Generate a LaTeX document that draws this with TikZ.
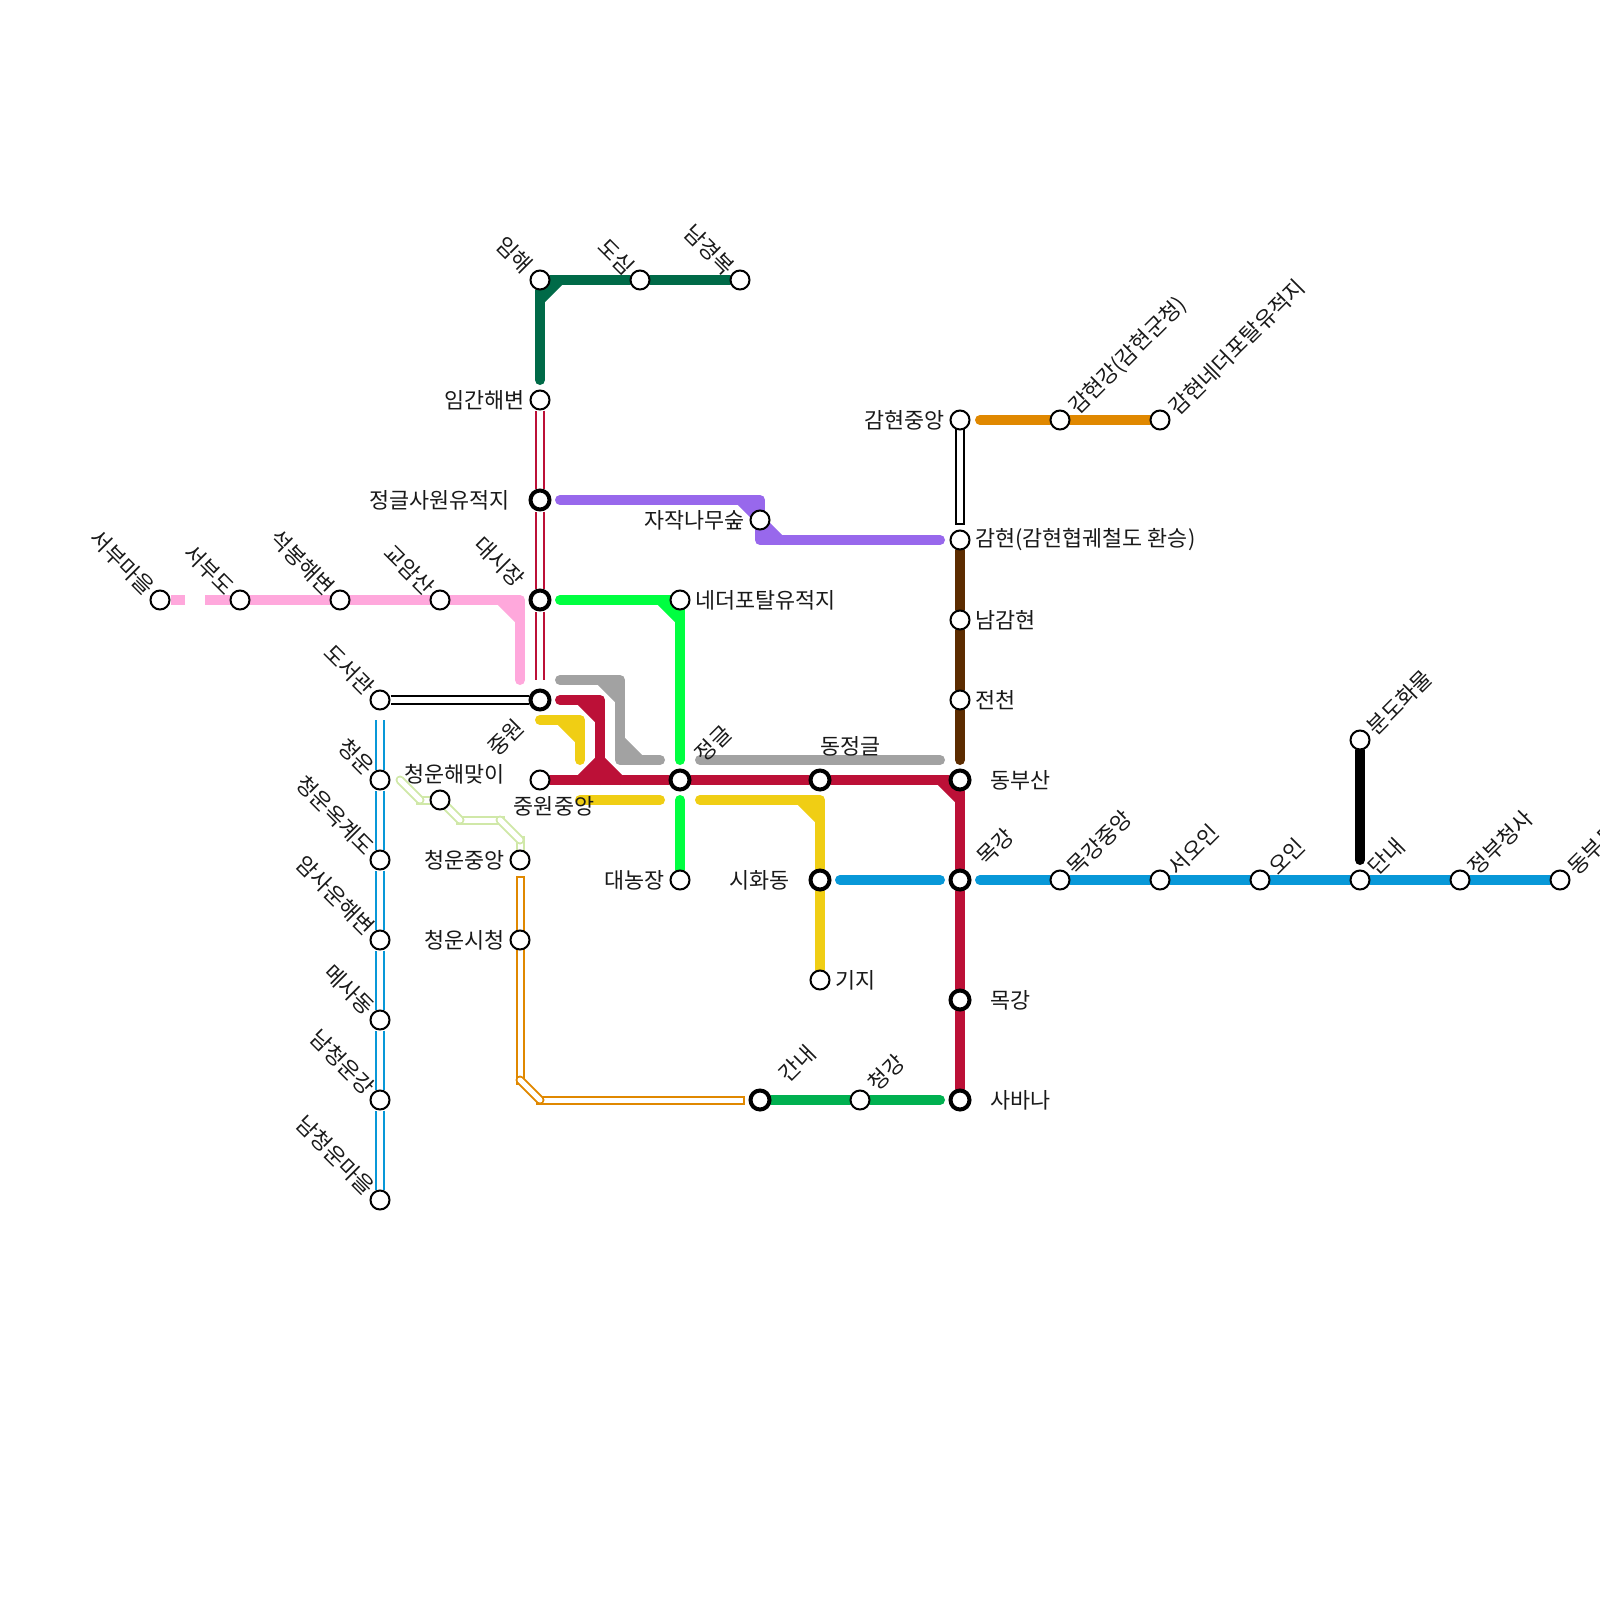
\documentclass[tikz,border=0pt]{standalone}
\usepackage{fontspec}
\setmainfont{Noto Sans CJK KR}
\usetikzlibrary{backgrounds}
\definecolor{forest}{HTML}{006A48}
\definecolor{crimson}{HTML}{BC1037}
\definecolor{violet}{HTML}{9868EC}
\definecolor{lime}{HTML}{00FF40}
\definecolor{pink}{HTML}{FFA8DC}
\definecolor{grayline}{HTML}{A2A2A2}
\definecolor{yellowline}{HTML}{F0CE14}
\definecolor{sky}{HTML}{0898D8}
\definecolor{brown}{HTML}{5C2C00}
\definecolor{amber}{HTML}{E08800}
\definecolor{meadow}{HTML}{00B050}
\definecolor{pale}{HTML}{D0E8A8}
\tikzset{
st/.style={circle,draw=black,fill=white,line width=2pt,minimum size=19pt,inner sep=0pt},
bigst/.style={circle,draw=black,fill=white,line width=4pt,minimum size=19pt,inner sep=0pt},
lb/.style={font=\fontsize{21.8}{26}\selectfont,inner sep=0pt,text=black!90},
up/.style={lb,rotate=45,anchor=west},
dn/.style={lb,rotate=-45,anchor=east},
rail/.style={line width=10pt,line cap=round,line join=round},
twin/.style={double=white,double distance=6pt,line width=2pt},
shellin/.style={line width=5pt,white},
shell/.style={line width=9pt},
}
\begin{document}
\begin{tikzpicture}[x=20pt,y=-20pt]
\useasboundingbox (0,0) rectangle (80,80);
\node[st](a1) at (27,14){};
\node[st](a2) at (32,14){};
\node[st](a3) at (37,14){};
\node[st](b1) at (27,20){};
\node[bigst](b2) at (27,25){};
\node[bigst](b3) at (27,30){};
\node[bigst](b4) at (27,35){};
\node[st](b5) at (27,39){};
\node[st](c1) at (8,30){};
\node[st](c2) at (12,30){};
\node[st](c3) at (17,30){};
\node[st](c4) at (22,30){};
\node[st](d1) at (19,35){};
\node[st](d2) at (19,39){};
\node[st](d3) at (19,43){};
\node[st](d4) at (19,47){};
\node[st](d5) at (19,51){};
\node[st](d6) at (19,55){};
\node[st](d7) at (19,60){};
\node[st](e1) at (22,40){};
\node[st](e2) at (26,43){};
\node[st](e3) at (26,47){};
\node[st](f1) at (38,26){};
\node[st](f2) at (34,30){};
\node[bigst](f3) at (34,39){};
\node[st](f4) at (34,44){};
\node[bigst](g1) at (41,39){};
\node[bigst](g2) at (41,44){};
\node[st](g3) at (41,49){};
\node[st](h1) at (48,21){};
\node[st](h2) at (48,27){};
\node[st](h3) at (48,31){};
\node[st](h4) at (48,35){};
\node[bigst](h5) at (48,39){};
\node[bigst](h6) at (48,44){};
\node[bigst](h7) at (48,50){};
\node[bigst](h8) at (48,55){};
\node[bigst](i1) at (38,55){};
\node[st](i2) at (43,55){};
\node[st](j1) at (53,21){};
\node[st](j2) at (58,21){};
\node[st](k1) at (53,44){};
\node[st](k2) at (58,44){};
\node[st](k3) at (63,44){};
\node[st](k4) at (68,44){};
\node[st](k5) at (73,44){};
\node[st](k6) at (78,44){};
\node[st](m1) at (68,37){};
\node[dn](ta1) at (26.45,13.45){임해};
\node[dn](ta2) at (31.55,13.55){도심};
\node[dn](ta3) at (36.55,13.55){남경복};
\node[lb,anchor=east](tb1) at (26.25,20){임간해변};
\node[lb,anchor=east](tb2) at (25.5,25){정글사원유적지};
\node[dn](tb3) at (26.05,29.15){대시장};
\node[lb,rotate=45,anchor=east](tb4) at (26,36.15){중원};
\node[lb,anchor=north](tb5) at (27.7,39.8){중원중앙};
\node[dn](tc1) at (7.55,29.55){서부마을};
\node[dn](tc2) at (11.55,29.55){서부도};
\node[dn](tc3) at (16.55,29.55){석봉해변};
\node[dn](tc4) at (21.55,29.55){교암산};
\node[dn](td1) at (18.55,34.55){도서관};
\node[dn](td2) at (18.55,38.55){청운};
\node[dn](td3) at (18.55,42.55){청운옥계도};
\node[dn](td4) at (18.55,46.55){암사운해변};
\node[dn](td5) at (18.55,50.55){메사동};
\node[dn](td6) at (18.55,54.55){남청운강};
\node[dn](td7) at (18.55,59.55){남청운마을};
\node[lb,anchor=east](te1) at (25.25,38.7){청운해맞이};
\node[lb,anchor=east](te2) at (25.25,43){청운중앙};
\node[lb,anchor=east](te3) at (25.25,47){청운시청};
\node[lb,anchor=east](tf1) at (37.25,26){자작나무숲};
\node[lb,anchor=west](tf2) at (34.75,30){네더포탈유적지};
\node[up](tf3) at (34.95,37.9){정글};
\node[lb,anchor=east](tf4) at (33.25,44){대농장};
\node[lb,anchor=west](tg1) at (41,37.3){동정글};
\node[lb,anchor=east](tg2) at (39.5,44){시화동};
\node[lb,anchor=west](tg3) at (41.75,49){기지};
\node[lb,anchor=east](th1) at (47.25,21){감현중앙};
\node[lb,anchor=west](th2) at (48.75,27){감현(감현협궤철도 환승)};
\node[lb,anchor=west](th3) at (48.75,31){남감현};
\node[lb,anchor=west](th4) at (48.75,35){전천};
\node[lb,anchor=west](th5) at (49.5,39){동부산};
\node[up](th6) at (49.05,43.05){목강};
\node[lb,anchor=west](th7) at (49.5,50){목강};
\node[lb,anchor=west](th8) at (49.5,55){사바나};
\node[up](ti1) at (39.15,53.9){간내};
\node[up](ti2) at (43.6,54.35){청강};
\node[up](tj1) at (53.65,20.55){감현강(감현군청)};
\node[up](tj2) at (58.65,20.55){감현네더포탈유적지};
\node[up](tk1) at (53.55,43.55){목강중앙};
\node[up](tk2) at (58.6,43.55){서오인};
\node[up](tk3) at (63.6,43.55){오인};
\node[up](tk4) at (68.6,43.55){단내};
\node[up](tk5) at (73.6,43.55){정부청사};
\node[up](tk6) at (78.6,43.55){동부두};
\node[up](tm1) at (68.55,36.55){분도화물};
\coordinate(p1) at (27,19);
\coordinate(p2) at (27,15);
\coordinate(p3) at (28,14);
\coordinate(p4) at (9.25,30);
\coordinate(p5) at (10.25,30);
\coordinate(p7) at (26,30);
\coordinate(p8) at (26,34);
\coordinate(p9) at (25,30);
\coordinate(p10) at (26,31);
\coordinate(q1) at (28,25);
\coordinate(q2) at (38,25);
\coordinate(q3) at (38,27);
\coordinate(q4) at (47,27);
\coordinate(q5) at (37,25);
\coordinate(q6) at (39,27);
\coordinate(r1) at (28,30);
\coordinate(r2) at (34,30);
\coordinate(r3) at (34,38);
\coordinate(r4) at (33,30);
\coordinate(r5) at (34,31);
\coordinate(r6) at (34,40);
\coordinate(s1) at (28,34);
\coordinate(s2) at (31,34);
\coordinate(s3) at (31,38);
\coordinate(s4) at (33,38);
\coordinate(s5) at (30,34);
\coordinate(s6) at (31,35);
\coordinate(s7) at (31,37);
\coordinate(s8) at (32,38);
\coordinate(s9) at (35,38);
\coordinate(s10) at (47,38);
\coordinate(u1) at (28,35);
\coordinate(u2) at (30,35);
\coordinate(u3) at (30,39);
\coordinate(u4) at (29,35);
\coordinate(u5) at (30,36);
\coordinate(u6) at (29,39);
\coordinate(u7) at (30,38);
\coordinate(u8) at (31,39);
\coordinate(u9) at (47,39);
\coordinate(u10) at (48,40);
\coordinate(v1) at (27,36);
\coordinate(v2) at (29,36);
\coordinate(v3) at (29,38);
\coordinate(v4) at (28,36);
\coordinate(v5) at (29,37);
\coordinate(v6) at (29,40);
\coordinate(v7) at (33,40);
\coordinate(v8) at (35,40);
\coordinate(v9) at (41,40);
\coordinate(v10) at (40,40);
\coordinate(v11) at (41,41);
\coordinate(w1) at (42,44);
\coordinate(w2) at (47,44);
\coordinate(w3) at (49,44);
\coordinate(w4) at (49,21);
\coordinate(w5) at (47,55);
\coordinate(w6) at (48,38);
\coordinate(w7) at (68,43);
\coordinate(x1) at (27,34);
\coordinate(x2) at (19,36);
\coordinate(x3) at (47.8,21);
\coordinate(x4) at (48.2,26.2);
\coordinate(y1) at (26,44);
\coordinate(y2) at (26,54);
\coordinate(y3) at (27,55);
\coordinate(y4) at (37.02,55);
\coordinate(z1) at (20,39);
\coordinate(z2) at (21,40);
\coordinate(z3) at (23,41);
\coordinate(z4) at (25,41);
\coordinate(z5) at (26,42);
\begin{pgfonlayer}{background}
\draw[rail,forest](p1) -- (p2) -- (a1) -- (a2) -- (a3);
\fill[forest](a1) -- (p2) -- (p3) -- cycle;
\draw[rail,forest](p2) -- (p3);
\draw[rail,pink,line cap=butt](c1) -- (p4);
\draw[rail,pink,line cap=butt](p5) -- (c2);
\draw[rail,pink](c2) -- (c3) -- (c4) -- (p7) -- (p8);
\draw[rail,pink](p9) -- (p10);
\fill[pink](p9) -- (p7) -- (p10) -- cycle;
\draw[rail,violet](q1) -- (q2) -- (q3) -- (q4);
\draw[rail,violet](q5) -- (q6);
\fill[violet](q5) -- (q2) -- (q3) -- (q6) -- cycle;
\draw[rail,lime](r1) -- (r2);
\draw[rail,lime](r2) -- (r3);
\draw[rail,lime](r4) -- (r5);
\fill[lime](r4) -- (r2) -- (r5) -- cycle;
\draw[rail,lime](r6) -- (f4);
\draw[rail,grayline](s1) -- (s2) -- (s3) -- (s4);
\draw[rail,grayline](s5) -- (s6);
\draw[rail,grayline](s7) -- (s8);
\fill[grayline](s5) -- (s2) -- (s6) -- cycle;
\fill[grayline](s7) -- (s3) -- (s8) -- cycle;
\draw[rail,grayline](s9) -- (s10);
\draw[rail,crimson](u1) -- (u2) -- (u3);
\draw[rail,crimson](u4) -- (u5);
\fill[crimson](u4) -- (u2) -- (u5) -- cycle;
\fill[crimson](u6) -- (u7) -- (u8) -- cycle;
\draw[rail,crimson](u6) -- (u7) -- (u8);
\draw[rail,crimson](b5) -- (f3) -- (g1) -- (h5) -- (h6) -- (h7) -- (h8);
\draw[rail,crimson](u9) -- (u10);
\fill[crimson](u9) -- (h5) -- (u10) -- cycle;
\draw[rail,yellowline](v1) -- (v2) -- (v3);
\draw[rail,yellowline](v4) -- (v5);
\fill[yellowline](v4) -- (v2) -- (v5) -- cycle;
\draw[rail,yellowline](v6) -- (v7);
\draw[rail,yellowline](v8) -- (v9) -- (g2) -- (g3);
\draw[rail,yellowline](v10) -- (v11);
\fill[yellowline](v10) -- (v9) -- (v11) -- cycle;
\draw[rail,sky](w1) -- (w2);
\draw[rail,sky](w3) -- (k1) -- (k2) -- (k3) -- (k4) -- (k5) -- (k6);
\draw[rail,brown](h2) -- (h3) -- (h4) -- (w6);
\draw[rail,amber](w4) -- (j1) -- (j2);
\draw[rail,black](m1) -- (w7);
\draw[rail,meadow](i1) -- (i2) -- (w5);
\draw[twin,crimson](b1) -- (b2) -- (b3) -- (x1);
\draw[twin,black](d1) -- (b4);
\draw[twin,sky](x2) -- (d2) -- (d3) -- (d4) -- (d5) -- (d6) -- (d7);
\draw[black,line width=2pt,fill=white](x3) rectangle (x4);
\draw[shell,amber,line cap=rect](y1) -- (y2);
\draw[shellin,line cap=rect](y1) -- (y2);
\draw[shell,amber,line cap=rect](y3) -- (y4);
\draw[shellin,line cap=rect](y3) -- (y4);
\draw[shell,amber,line cap=round](y2) -- (y3);
\draw[shellin,line cap=round](y2) -- (y3);
\draw[shell,pale,line cap=rect](z2) -- (e1);
\draw[shellin,line cap=rect](z2) -- (e1);
\draw[shell,pale,line cap=rect](z3) -- (z4);
\draw[shellin,line cap=rect](z3) -- (z4);
\draw[shell,pale,line cap=rect](z5) -- (e2);
\draw[shellin,line cap=rect](z5) -- (e2);
\draw[shell,pale,line cap=round](z1) -- (z2);
\draw[shellin,line cap=round](z1) -- (z2);
\draw[shell,pale,line cap=round](e1) -- (z3);
\draw[shellin,line cap=round](e1) -- (z3);
\draw[shell,pale,line cap=round](z4) -- (z5);
\draw[shellin,line cap=round](z4) -- (z5);
\end{pgfonlayer}
\end{tikzpicture}
\end{document}
